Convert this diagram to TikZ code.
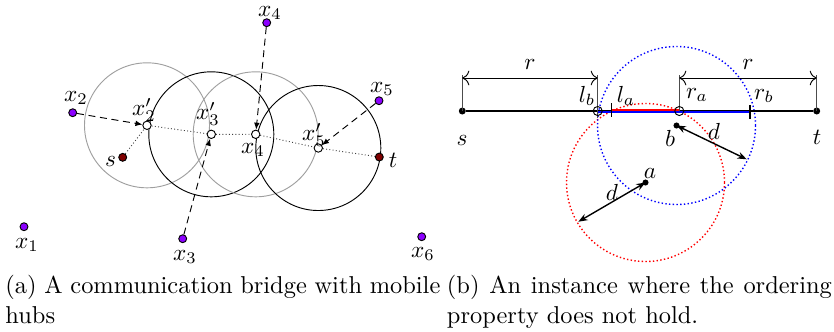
\documentclass[tikz,border=0pt]{standalone}
\usetikzlibrary{arrows.meta}
\definecolor{hubviolet}{RGB}{140,0,255}
\definecolor{termred}{RGB}{128,0,0}
\begin{document}
\begin{tikzpicture}[x=0.43pt,y=-0.43pt]
	\tikzset{hub_pt/.style={circle,draw,fill=hubviolet,inner sep=0pt,minimum size=3.4pt},
		end_pt/.style={circle,draw,fill=termred,inner sep=0pt,minimum size=3.4pt},
		relay_pt/.style={circle,draw,fill=white,inner sep=0pt,minimum size=3.6pt},
		open_pt/.style={circle,draw,inner sep=0pt,minimum size=3.9pt},
		dot_pt/.style={circle,fill,inner sep=0pt,minimum size=2.6pt},
		tag/.style={inner sep=1pt},
		move_to/.style={densely dashed,-{Latex[length=3pt,width=2.4pt]}},
		bridge/.style={densely dotted,black!75},
		range_a/.style={gray!75},
		range_b/.style={black},
		tick_up/.style={black!70},
		span/.style={{To[length=3pt]}-{To[length=3pt]}},
		sub_cap/.style={anchor=north west,align=left,inner sep=0pt,font=\fontsize{10.5}{12.8}\selectfont}}
	\useasboundingbox (0,0) rectangle (834,331);
	% (a) bridge of mobile hubs
	\coordinate (p2) at (147,125.3);
	\coordinate (p3) at (211.3,134.3);
	\coordinate (p4) at (255.7,134.3);
	\coordinate (p5) at (318.3,148);
	\draw[range_a] (p2) circle (62.5);
	\draw[range_b] (p3) circle (62.5);
	\draw[range_a] (p4) circle (62.5);
	\draw[range_b] (p5) circle (62.5);
	\node[hub_pt] (x1) at (24,226.7) {};
	\node[hub_pt] (x2) at (72.7,112.7) {};
	\node[hub_pt] (x3) at (182.7,238.7) {};
	\node[hub_pt] (x4) at (266.7,22.7) {};
	\node[hub_pt] (x5) at (379,100.7) {};
	\node[hub_pt] (x6) at (421.7,236.7) {};
	\node[end_pt] (s) at (122.7,157.3) {};
	\node[end_pt] (t) at (379.3,157) {};
	\node[relay_pt] (x2p) at (p2) {};
	\node[relay_pt] (x3p) at (p3) {};
	\node[relay_pt] (x4p) at (p4) {};
	\node[relay_pt] (x5p) at (p5) {};
	\draw[bridge] (s) -- (x2p) -- (x3p) -- (x4p) -- (x5p) -- (t);
	\draw[move_to] (x2) -- (x2p);
	\draw[move_to] (x3) -- (x3p);
	\draw[move_to] (x4) -- (x4p);
	\draw[move_to] (x5) -- (x5p);
	\node[tag] (lab_x1) at (27,245) {$x_1$};
	\node[tag] (lab_x2) at (76,98) {$x_2$};
	\node[tag] (lab_x3) at (185,257) {$x_3$};
	\node[tag] (lab_x4) at (270,13) {$x_4$};
	\node[tag] (lab_x5) at (382,89) {$x_5$};
	\node[tag] (lab_x6) at (423,254) {$x_6$};
	\node[tag] (lab_s) at (110.5,161) {$s$};
	\node[tag] (lab_t) at (393,160) {$t$};
	\node[tag] (lab_x2p) at (144,110) {$x'_2$};
	\node[tag] (lab_x3p) at (208,114) {$x'_3$};
	\node[tag] (lab_x4p) at (253,150) {$x_4$};
	\node[tag] (lab_x5p) at (314,135) {$x'_5$};
	% (b) ordering fails
	\coordinate (a) at (645.5,182.5);
	\coordinate (b) at (676.5,125.5);
	\coordinate (lb) at (597.7,111);
	\coordinate (la) at (611.7,111);
	\coordinate (ra) at (679.3,111);
	\coordinate (rb) at (750,111);
	\draw[red,densely dotted,line width=0.6pt] (a) circle (79);
	\draw[blue,densely dotted,line width=0.6pt] (b) circle (79);
	\node[dot_pt,minimum size=3pt] (s2) at (462.3,111) {};
	\node[dot_pt,minimum size=3pt] (t2) at (816.7,111) {};
	\draw[line width=0.6pt] (s2) -- (t2);
	\draw[blue,line width=1.1pt] ([yshift=-0.4pt]lb) -- ([yshift=-0.4pt]rb);
	\draw[red,line width=1.1pt] ([yshift=0.5pt]la) -- ([yshift=0.5pt]ra);
	\coordinate (s_top) at (462.3,75);
	\coordinate (lb_top) at (597.7,75);
	\coordinate (lb_low) at (597.7,118);
	\coordinate (ra_top) at (679.3,75);
	\coordinate (t_top) at (816.7,75);
	\draw[tick_up] (s2.center) -- (s_top);
	\draw[tick_up] (lb_low) -- (lb_top);
	\draw[tick_up] (ra) -- (ra_top);
	\draw[tick_up] (t2.center) -- (t_top);
	\draw[line width=0.6pt] (la) ++(0,-8) -- ++(0,14);
	\draw[line width=0.6pt] (rb) ++(0,-6) -- ++(0,14);
	\coordinate (span1_l) at (462.3,78);
	\coordinate (span1_r) at (597.7,78);
	\coordinate (span2_l) at (679.3,78);
	\coordinate (span2_r) at (816.7,78);
	\draw[span] (span1_l) -- (span1_r) node[midway,above] (lab_r1) {$r$};
	\draw[span] (span2_l) -- (span2_r) node[midway,above] (lab_r2) {$r$};
	\node[open_pt] (lb_pt) at (lb) {};
	\node[open_pt] (ra_pt) at (ra) {};
	\node[dot_pt] (a_pt) at (a) {};
	\node[dot_pt] (b_pt) at (b) {};
	\coordinate (db) at (746.7,159.3);
	\coordinate (da) at (578.3,221.7);
	\draw[line width=0.6pt,{Stealth[length=4pt]}-{Stealth[length=4pt]}] (b_pt.center) -- (db);
	\draw[line width=0.6pt,{Stealth[length=4pt]}-{Stealth[length=4pt]}] (a_pt.center) -- (da);
	\node[tag] (lab_s2) at (462,140) {$s$};
	\node[tag] (lab_t2) at (817,137) {$t$};
	\node[tag] (lab_lb) at (587,96) {$l_b$};
	\node[tag] (lab_la) at (626,96) {$l_a$};
	\node[tag] (lab_ra) at (697,95) {$r_a$};
	\node[tag] (lab_rb) at (764,96) {$r_b$};
	\node[tag] (lab_a) at (650,173) {$a$};
	\node[tag] (lab_b) at (670,138) {$b$};
	\node[tag] (lab_db) at (714,131) {$d$};
	\node[tag] (lab_da) at (612,192) {$d$};
	% captions
	\node[sub_cap] (cap_a) at (5,275) {\makebox[187pt][s]{(a) A communication bridge with mobile}\\hubs};
	\node[sub_cap] (cap_b) at (446.5,275) {\makebox[165.5pt][s]{(b) An instance where the ordering}\\property does not hold.};
\end{tikzpicture}
\end{document}
